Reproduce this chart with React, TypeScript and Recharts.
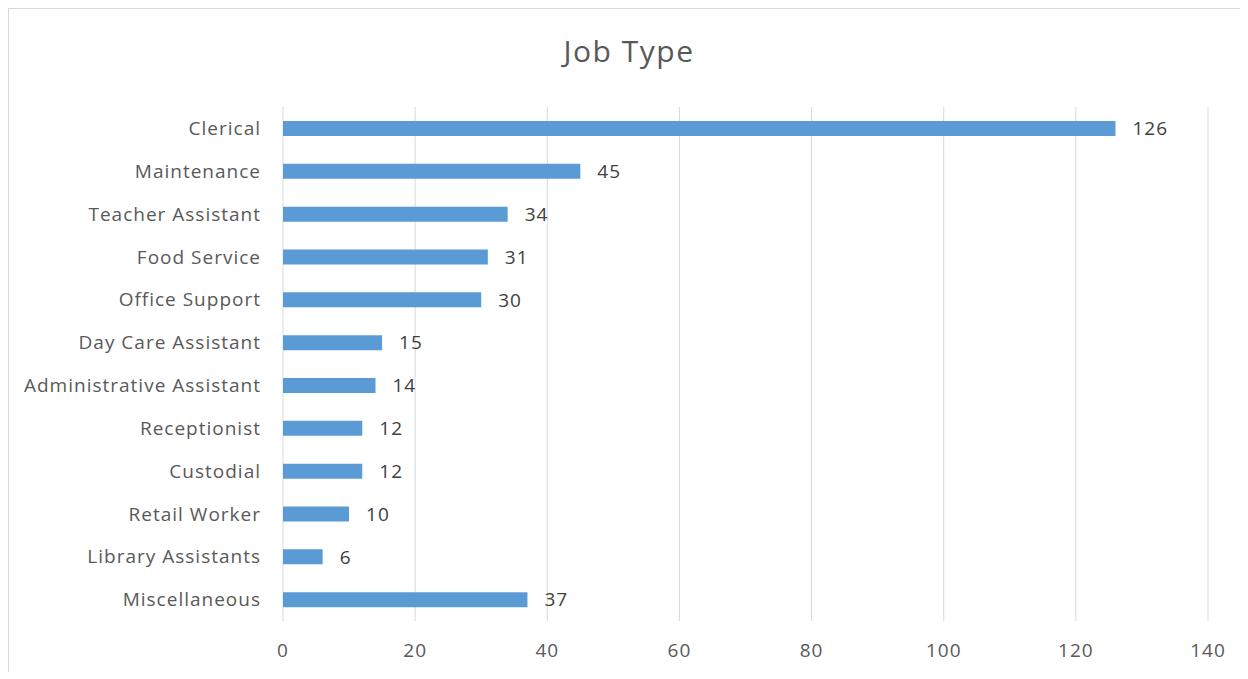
import { BarChart, Bar, XAxis, YAxis, CartesianGrid, LabelList } from 'recharts';

const jobTypes = [
    'Clerical',
    'Maintenance',
    'Teacher Assistant',
    'Food Service',
    'Office Support',
    'Day Care Assistant',
    'Administrative Assistant',
    'Receptionist',
    'Custodial',
    'Retail Worker',
    'Library Assistants',
    'Miscellaneous',
];
const counts = [126, 45, 34, 31, 30, 15, 14, 12, 12, 10, 6, 37];
const xTicks = [0, 20, 40, 60, 80, 100, 120, 140];

const data = jobTypes.map((job, i) => ({ job, count: counts[i] }));

const font = '"Open Sans", "Noto Sans", sans-serif';
const tickStyle = { fill: '#595959', fontSize: 19, fontFamily: font, letterSpacing: 1 };

export default function App() {
    return (
        <div
            style={{
                position: 'relative',
                width: 1232,
                height: 663,
                borderLeft: '1px solid #d9d9d9',
                borderTop: '1px solid #d9d9d9',
                background: '#fff',
                fontFamily: font,
            }}
        >
            <div
                style={{
                    position: 'absolute',
                    left: 0,
                    top: 21,
                    width: 1240,
                    textAlign: 'center',
                    fontSize: 30,
                    letterSpacing: 1.5,
                    color: '#595959',
                }}
            >
                Job Type
            </div>
            <BarChart
                layout="vertical"
                width={1232}
                height={663}
                data={data}
                margin={{ top: 98, right: 33, bottom: 0, left: 0 }}
            >
                <CartesianGrid horizontal={false} stroke="#d9d9d9" />
                <XAxis
                    type="number"
                    domain={[0, 140]}
                    ticks={xTicks}
                    axisLine={false}
                    tickLine={false}
                    tickSize={0}
                    tickMargin={23}
                    height={51}
                    tick={tickStyle}
                />
                <YAxis
                    type="category"
                    dataKey="job"
                    width={274}
                    axisLine={false}
                    tickLine={false}
                    tickSize={0}
                    tickMargin={22}
                    interval={0}
                    tick={tickStyle}
                />
                <Bar dataKey="count" fill="#5b9bd5" barSize={15} isAnimationActive={false}>
                    <LabelList
                        dataKey="count"
                        position="right"
                        offset={17}
                        fill="#404040"
                        fontSize={19}
                        fontFamily={font}
                        style={{ letterSpacing: 1 }}
                    />
                </Bar>
            </BarChart>
        </div>
    );
}
